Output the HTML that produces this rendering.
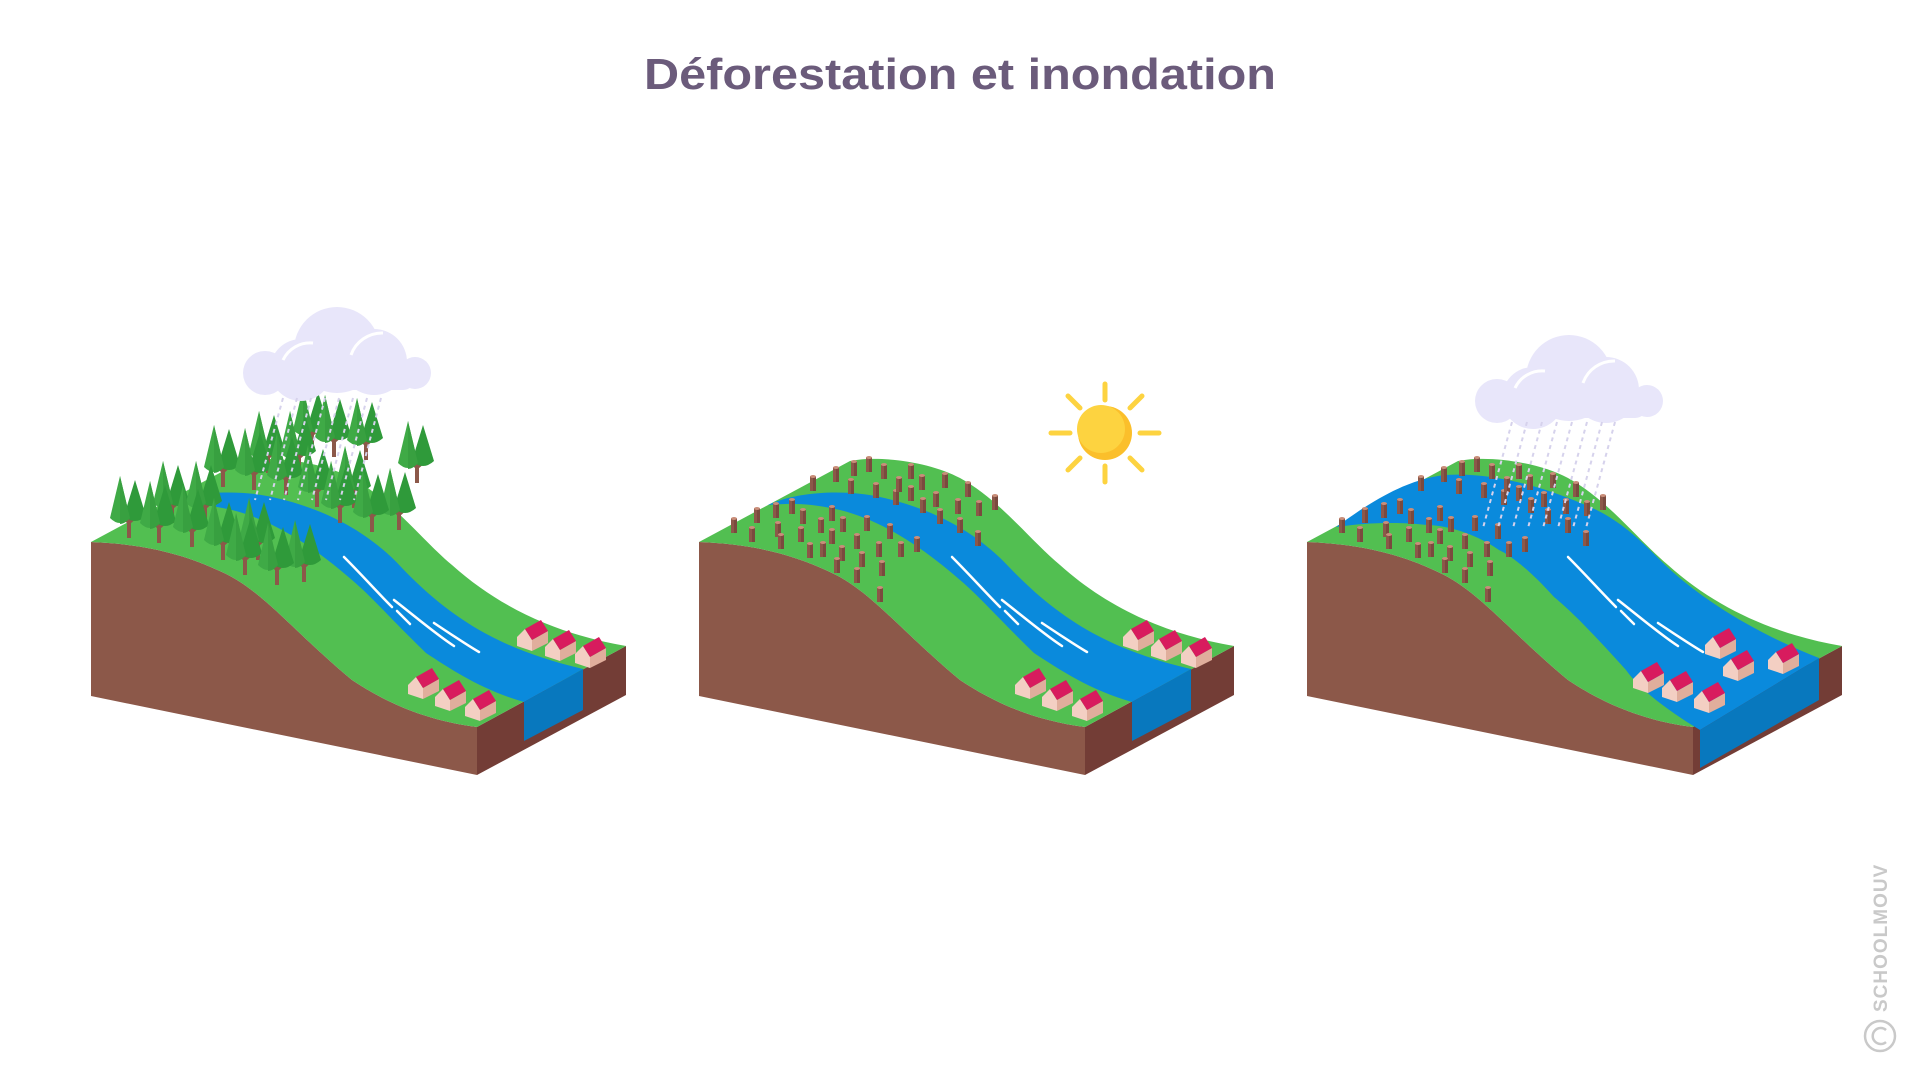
<!DOCTYPE html>
<html><head><meta charset="utf-8"><style>
html,body{margin:0;padding:0;background:#fff;}
svg{display:block;}
</style></head><body>
<svg width="1921" height="1080" viewBox="0 0 1921 1080" xmlns="http://www.w3.org/2000/svg">
<defs>
<g id="stump"><rect x="-3" y="0" width="6" height="15" fill="#8C5849"/><rect x="0" y="0" width="3" height="15" fill="#7A4A3E"/><ellipse cx="0" cy="0.5" rx="3" ry="1.5" fill="#C98E7A"/></g>
<g id="house"><path d="M0,17 L8,9 L15,20 L15,31 L0,26 Z" fill="#F3CFC3"/><path d="M15,20 L31,11 L31,23 L15,31 Z" fill="#E0AE9C"/><path d="M8,9 L24,0 L31,11 L15,20 Z" fill="#D81B5E"/></g>
<g id="tree"><rect x="-2" y="-24" width="4" height="24" fill="#8C5849"/><path d="M-1,-16 L-9,-24 M1,-16 L8,-22" stroke="#8C5849" stroke-width="3"/><path d="M-19,-20 L-9,-62 L1,-20 Q-9,-10 -19,-20 Z" fill="#3FAA46"/><path d="M-5,-22 L6,-58 L17,-22 Q6,-12 -5,-22 Z" fill="#2F9A3A"/><path d="M-9,-62 L1,-20 Q-4,-14 -9,-14 Z" fill="#38A040"/></g>
<g id="cloud"><circle cx="22" cy="68" r="22" fill="#E8E6FA"/><circle cx="58" cy="65" r="31" fill="#E8E6FA"/><circle cx="94" cy="45" r="43" fill="#E8E6FA"/><circle cx="131" cy="57" r="33" fill="#E8E6FA"/><circle cx="172" cy="68" r="16" fill="#E8E6FA"/><rect x="22" y="60" width="150" height="25" rx="12" fill="#E8E6FA"/><path d="M40,55 A30,30 0 0 1 70,38" stroke="#fff" stroke-width="3" fill="none"/><path d="M108,50 A33,33 0 0 1 140,28" stroke="#fff" stroke-width="3" fill="none"/></g>
<g id="stumps">
<use href="#stump" x="734" y="518"/><use href="#stump" x="757" y="508"/><use href="#stump" x="752" y="527"/><use href="#stump" x="776" y="503"/><use href="#stump" x="778" y="522"/><use href="#stump" x="781" y="534"/><use href="#stump" x="792" y="499"/><use href="#stump" x="803" y="509"/><use href="#stump" x="801" y="527"/><use href="#stump" x="813" y="476"/><use href="#stump" x="810" y="543"/><use href="#stump" x="821" y="518"/><use href="#stump" x="823" y="542"/><use href="#stump" x="832" y="506"/><use href="#stump" x="832" y="529"/><use href="#stump" x="836" y="467"/><use href="#stump" x="843" y="517"/><use href="#stump" x="842" y="546"/><use href="#stump" x="837" y="558"/><use href="#stump" x="851" y="479"/><use href="#stump" x="854" y="461"/><use href="#stump" x="857" y="534"/><use href="#stump" x="862" y="552"/><use href="#stump" x="857" y="568"/><use href="#stump" x="867" y="516"/><use href="#stump" x="869" y="457"/><use href="#stump" x="876" y="483"/><use href="#stump" x="879" y="542"/><use href="#stump" x="882" y="561"/><use href="#stump" x="880" y="587"/><use href="#stump" x="884" y="464"/><use href="#stump" x="890" y="524"/><use href="#stump" x="896" y="490"/><use href="#stump" x="899" y="477"/><use href="#stump" x="901" y="542"/><use href="#stump" x="911" y="464"/><use href="#stump" x="911" y="486"/><use href="#stump" x="917" y="537"/><use href="#stump" x="922" y="475"/><use href="#stump" x="923" y="498"/><use href="#stump" x="936" y="492"/><use href="#stump" x="940" y="509"/><use href="#stump" x="945" y="473"/><use href="#stump" x="958" y="499"/><use href="#stump" x="960" y="518"/><use href="#stump" x="968" y="482"/><use href="#stump" x="979" y="501"/><use href="#stump" x="978" y="531"/><use href="#stump" x="995" y="495"/>
</g>
<g id="base">
<path d="M699,542 C750,544 790,553 830,572 C870,590 900,630 960,680 C990,700 1030,720 1085,727 L1085,775 L699,696 Z" fill="#8C5849"/>
<path d="M1085,727 L1234,646 L1234,695 L1085,775 Z" fill="#733D36"/>
<path d="M699,542 L850,461 C880,455 930,462 960,478 C1000,500 1030,540 1060,565 C1110,610 1170,635 1234,646 L1085,727 C1030,720 990,700 960,680 C900,630 870,590 830,572 C790,553 750,544 699,542 Z" fill="#52BF51"/>
</g>
<g id="river">
<path d="M768,505 C800,490 850,490 880,497 C930,508 975,530 1010,568 C1060,620 1110,650 1191,669 L1132,702 C1090,690 1060,670 1034,653 C1000,620 980,597 960,580 C920,545 880,520 840,510 C810,503 790,503 768,505 Z" fill="#0A8ADC"/>
<path d="M1132,702 L1191,669 L1191,710 L1132,741 Z" fill="#0878BE"/>
</g>
<g id="streaks" stroke="#fff" stroke-width="2.5" fill="none" stroke-linecap="round">
<path d="M952,557 C970,575 985,592 1000,607"/><path d="M1002,600 C1025,618 1045,635 1062,646"/><path d="M1005,611 L1018,624"/><path d="M1042,623 C1060,635 1075,645 1087,652"/>
</g>
</defs>

<text x="960" y="89" text-anchor="middle" font-family="Liberation Sans, sans-serif" font-weight="bold" font-size="44" fill="#6B5B7B" textLength="632" lengthAdjust="spacingAndGlyphs">Déforestation et inondation</text>

<!-- Block 1 -->
<g transform="translate(-608,0)"><use href="#base"/><use href="#river"/><use href="#streaks"/></g>
<use href="#house" x="517" y="620"/><use href="#house" x="545" y="630"/><use href="#house" x="575" y="637"/>
<use href="#house" x="408" y="668"/><use href="#house" x="435" y="680"/><use href="#house" x="465" y="690"/>
<use href="#tree" x="312" y="450"/><use href="#tree" x="334" y="457"/><use href="#tree" x="366" y="460"/><use href="#tree" x="268" y="473"/><use href="#tree" x="299" y="473"/><use href="#tree" x="417" y="483"/><use href="#tree" x="223" y="487"/><use href="#tree" x="254" y="490"/><use href="#tree" x="286" y="495"/><use href="#tree" x="317" y="507"/><use href="#tree" x="354" y="508"/><use href="#tree" x="172" y="523"/><use href="#tree" x="205" y="523"/><use href="#tree" x="340" y="523"/><use href="#tree" x="399" y="530"/><use href="#tree" x="372" y="532"/><use href="#tree" x="129" y="538"/><use href="#tree" x="159" y="543"/><use href="#tree" x="192" y="547"/><use href="#tree" x="223" y="560"/><use href="#tree" x="258" y="560"/><use href="#tree" x="245" y="575"/><use href="#tree" x="304" y="582"/><use href="#tree" x="277" y="585"/>
<use href="#cloud" x="243" y="305"/>
<g stroke="#D6D2EC" stroke-width="2" stroke-dasharray="4 4">
<line x1="283" y1="398" x2="255" y2="500"/><line x1="297" y1="398" x2="270" y2="500"/><line x1="311" y1="398" x2="284" y2="500"/><line x1="325" y1="398" x2="298" y2="500"/><line x1="339" y1="398" x2="312" y2="500"/><line x1="353" y1="398" x2="326" y2="500"/><line x1="367" y1="398" x2="340" y2="500"/><line x1="381" y1="398" x2="354" y2="500"/>
</g>

<!-- Block 2 -->
<use href="#base"/><use href="#river"/><use href="#streaks"/>
<use href="#stumps"/>
<use href="#house" x="1123" y="620"/><use href="#house" x="1151" y="630"/><use href="#house" x="1181" y="637"/>
<use href="#house" x="1015" y="668"/><use href="#house" x="1042" y="680"/><use href="#house" x="1072" y="690"/>
<g stroke="#FDD340" stroke-width="5" stroke-linecap="round">
<line x1="1105" y1="384" x2="1105" y2="400"/><line x1="1105" y1="466" x2="1105" y2="482"/><line x1="1051" y1="433" x2="1070" y2="433"/><line x1="1140" y1="433" x2="1159" y2="433"/><line x1="1068" y1="396" x2="1080" y2="408"/><line x1="1130" y1="458" x2="1142" y2="470"/><line x1="1142" y1="396" x2="1130" y2="408"/><line x1="1080" y1="458" x2="1068" y2="470"/>
</g>
<circle cx="1105" cy="433" r="27" fill="#FBBF2B"/><circle cx="1101" cy="429" r="24" fill="#FDD340"/>

<!-- Block 3 -->
<g transform="translate(608,0)">
<use href="#base"/>
<path d="M728,527 C752,510 792,480 837,475 C882,472 932,485 982,507 C1012,520 1032,540 1052,560 C1092,600 1152,635 1211,658 L1092,730 C1062,712 1032,690 1018,670 C982,630 962,610 946,597 C922,570 902,555 891,550 C862,530 832,525 819,525 C792,522 762,522 728,527 Z" fill="#0A8ADC"/>
<path d="M1092,730 L1211,658 L1211,700 L1092,768 Z" fill="#0878BE"/>
<g transform="translate(8,0)"><use href="#streaks"/></g>
<use href="#stumps"/>
</g>
<use href="#house" x="1705" y="628"/><use href="#house" x="1723" y="650"/><use href="#house" x="1768" y="643"/>
<use href="#house" x="1633" y="662"/><use href="#house" x="1662" y="671"/><use href="#house" x="1694" y="682"/>
<use href="#cloud" x="1475" y="333"/>
<g stroke="#D6D2EC" stroke-width="2" stroke-dasharray="4 4">
<line x1="1512" y1="422" x2="1483" y2="528"/><line x1="1527" y1="422" x2="1498" y2="528"/><line x1="1542" y1="422" x2="1513" y2="528"/><line x1="1557" y1="422" x2="1528" y2="528"/><line x1="1572" y1="422" x2="1543" y2="528"/><line x1="1587" y1="422" x2="1558" y2="528"/><line x1="1602" y1="422" x2="1573" y2="528"/><line x1="1615" y1="422" x2="1586" y2="528"/>
</g>

<text transform="translate(1887,1012) rotate(-90)" font-family="Liberation Sans, sans-serif" font-weight="bold" font-size="19" fill="#C9C9C9" letter-spacing="1">SCHOOLMOUV</text>
<circle cx="1880" cy="1036" r="15" fill="none" stroke="#C9C9C9" stroke-width="2.5"/>
<path d="M1886,1030 A8,8 0 1 0 1886,1042" fill="none" stroke="#C9C9C9" stroke-width="2.5"/>
</svg>
</body></html>
